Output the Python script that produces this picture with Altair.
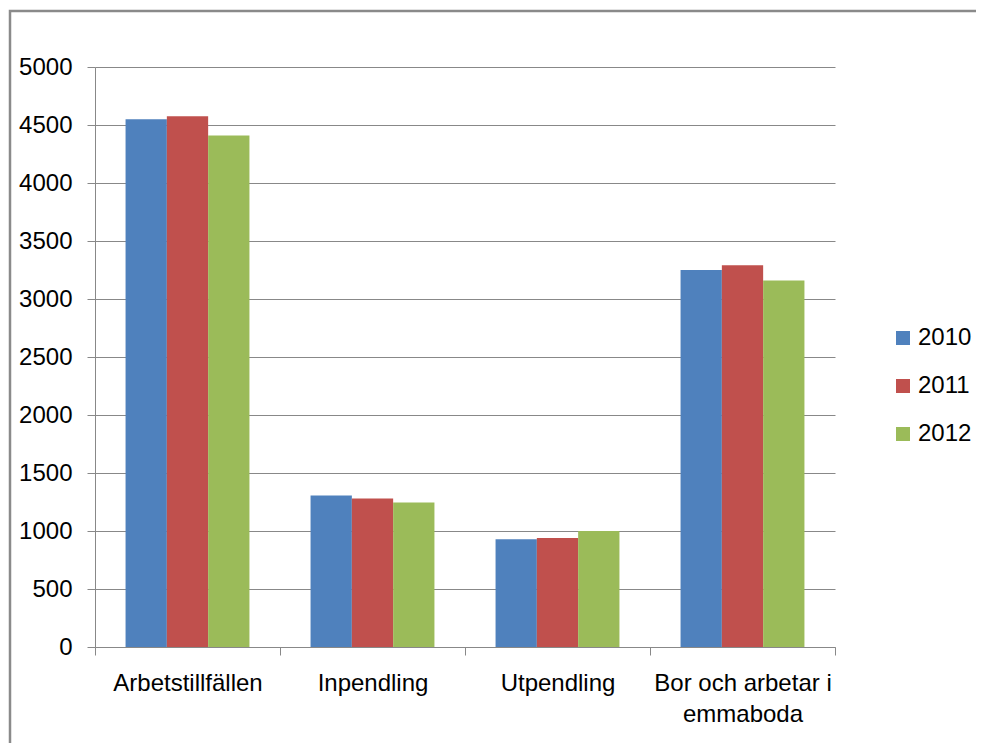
import altair as alt
import pandas as pd

categories = ["Arbetstillfällen", "Inpendling", "Utpendling", "Bor och arbetar i emmaboda"]
years = ["2010", "2011", "2012"]
v2010 = [4550, 1305, 928, 3250]
v2011 = [4575, 1280, 940, 3290]
v2012 = [4410, 1245, 1000, 3160]
colors = ["#4F81BD", "#C0504D", "#9BBB59"]
y_ticks = list(range(0, 5001, 500))

rows = []
for yr, vals in zip(years, [v2010, v2011, v2012]):
    for c, v in zip(categories, vals):
        rows.append({"category": c, "year": yr, "value": v})
df = pd.DataFrame(rows)

FONT = "Liberation Sans"
GRAY = "#888888"

bars = alt.Chart(df).mark_bar().encode(
    x=alt.X("category:N", sort=categories, title=None,
            scale=alt.Scale(paddingInner=0, paddingOuter=0),
            axis=alt.Axis(labelAngle=0, tickBand="extent", tickSize=8, tickColor=GRAY,
                          domainColor=GRAY, labelFontSize=24, labelFont=FONT,
                          labelColor="black", labelPadding=16, labelLineHeight=31,
                          labelExpr="datum.label == 'Bor och arbetar i emmaboda' ? ['Bor och arbetar i', 'emmaboda'] : datum.label")),
    xOffset=alt.XOffset("year:N", scale=alt.Scale(paddingInner=0, paddingOuter=0.74)),
    y=alt.Y("value:Q", title=None,
            scale=alt.Scale(domain=[0, 5000], nice=False),
            axis=alt.Axis(values=y_ticks, format="d", tickSize=8, tickColor=GRAY,
                          domainColor=GRAY, gridColor=GRAY, gridWidth=1,
                          labelFontSize=24, labelFont=FONT,
                          labelColor="black", labelPadding=15)),
    color=alt.Color("year:N", scale=alt.Scale(domain=years, range=colors),
                    legend=alt.Legend(title=None, orient="none", legendX=796, legendY=259,
                                      symbolType="square", symbolSize=196, symbolStrokeWidth=0,
                                      labelFontSize=24, labelFont=FONT, labelColor="black",
                                      labelOffset=3, rowPadding=24, padding=0)),
)

frame = alt.Chart(alt.Data(values=[{"a": 1}])).mark_rect(
    fillOpacity=0, stroke="#8a8a8a", strokeWidth=2.5
).encode(
    x=alt.value(-85), x2=alt.value(1400), y=alt.value(-56), y2=alt.value(1200)
)

chart = alt.layer(bars, frame).properties(
    width=740, height=580,
    autosize=alt.AutoSizeParams(type="none"),
    padding={"left": 87, "top": 59, "right": 141, "bottom": 96},
    background="white",
).configure_view(stroke=None)

chart.save("out.html", embed_options={"renderer": "svg", "actions": False})
